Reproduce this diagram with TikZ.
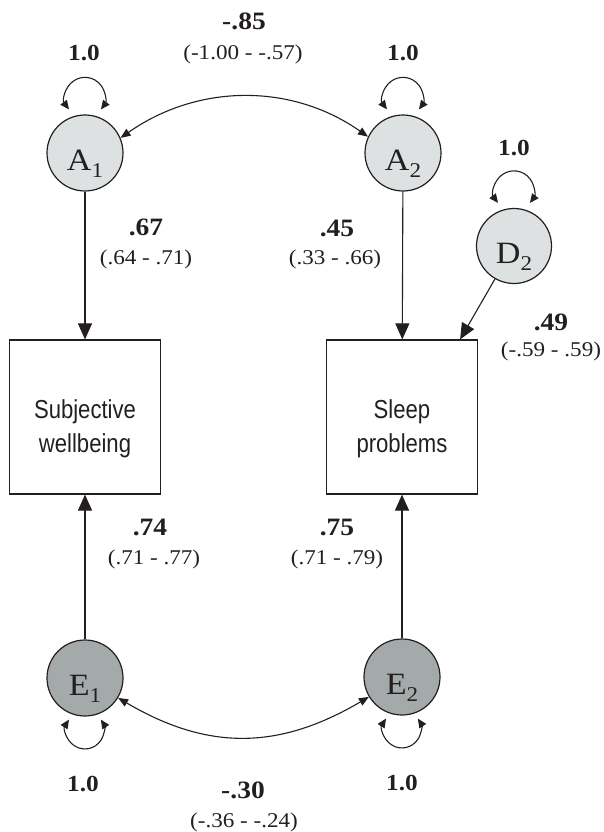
\documentclass[tikz,border=0pt]{standalone}
\usepackage{fontspec}
\setmainfont[FakeStretch=1.1]{Liberation Serif}
\newfontfamily\boxfont[FakeStretch=0.85]{Liberation Sans}
\usetikzlibrary{arrows.meta}
\definecolor{ink}{HTML}{231F20}
\definecolor{afill}{HTML}{DEE1E2}
\definecolor{efill}{HTML}{A4A9AA}
\newcommand{\lsub}[1]{\raisebox{-7pt}{\fontsize{21}{21}\selectfont #1}}
\begin{document}
\begin{tikzpicture}[x=1pt,y=1pt,
  every node/.style={text=ink},
  latent/.style={circle, draw=ink, line width=1.2pt, minimum size=76pt, inner sep=0pt,
    font=\fontsize{31}{31}\selectfont, text height=34pt, text depth=0pt},
  obs/.style={rectangle, draw=ink, line width=1.2pt, minimum width=151pt, minimum height=154pt,
    inner sep=0pt, align=center, font=\boxfont\fontsize{26}{34}\selectfont, text height=77pt},
  pathar/.style={draw=ink, line width=1.1pt, -{Triangle[length=16pt,width=14pt]}},
  cov/.style={draw=ink, line width=1.1pt, {Triangle[length=10pt,width=8pt]}-{Triangle[length=10pt,width=8pt]}},
  loopar/.style={draw=ink, line width=1.1pt, {Triangle[length=9pt,width=8pt]}-{Triangle[length=9pt,width=8pt]}},
  coef/.style={font=\fontsize{25}{25}\selectfont\bfseries, anchor=base, inner sep=0pt},
  ci/.style={font=\fontsize{21}{21}\selectfont, anchor=base, inner sep=0pt},
  varl/.style={font=\fontsize{23}{23}\selectfont\bfseries, anchor=base, inner sep=0pt},
]
\useasboundingbox (0,0) rectangle (603,-832);

% latent variables
\node[latent, fill=afill] (A1) at (85,-153) {A\lsub{1}};
\node[latent, fill=afill] (A2) at (403,-153) {A\lsub{2}};
\node[latent, fill=afill, minimum size=75pt] (D2) at (514,-246) {D\lsub{2}};
\node[latent, fill=efill] (E1) at (85,-678) {E\lsub{1}};
\node[latent, fill=efill] (E2) at (402,-677) {E\lsub{2}};

% observed variables
\node[obs] (B1) at (85,-417) {Subjective\\wellbeing};
\node[obs] (B2) at (402,-417) {Sleep\\problems};

% paths
\draw[pathar] (A1) -- (B1);
\draw[pathar] (A2) -- (B2);
\draw[pathar] (E1) -- (B1);
\draw[pathar] (E2) -- (B2);
\draw[pathar] (D2) -- ([xshift=-18pt]B2.north east);

% covariances
\draw[cov] (A1.23) .. controls +(77,54) and +(-77,54) .. (A2.155);
\draw[cov] (E1.-31) .. controls +(90,-53) and +(-90,-53) .. (E2.-149);

% variance loops
\draw[loopar] ([shift={(-16,5)}]A1.north) arc[start angle=217, end angle=-37, radius=20];
\draw[loopar] ([shift={(-16,5)}]A2.north) arc[start angle=217, end angle=-37, radius=20];
\draw[loopar] ([shift={(-16,5)}]D2.north) arc[start angle=217, end angle=-37, radius=20];
\draw[loopar] ([shift={(-16,-3)}]E1.south) arc[start angle=147, end angle=393, radius=19];
\draw[loopar] ([shift={(-16,-3)}]E2.south) arc[start angle=147, end angle=393, radius=19];

% labels
\node[varl] (vA1) at (84,-61) {1.0};
\node[varl] (vA2) at (403,-61) {1.0};
\node[varl] (vD2) at (514,-155) {1.0};
\node[varl] (vE1) at (83,-791) {1.0};
\node[varl] (vE2) at (402,-790) {1.0};

\node[coef] (cA) at (244,-29.5) {-.85};
\node[ci] (ciA) at (243,-60) {(-1.00 - -.57)};
\node[coef] (c1) at (146,-235.5) {.67};
\node[ci] (ci1) at (146,-264) {(.64 - .71)};
\node[coef] (c2) at (337,-236.5) {.45};
\node[ci] (ci2) at (335,-264) {(.33 - .66)};
\node[coef] (c3) at (551,-330.5) {.49};
\node[ci] (ci3) at (551,-356) {(-.59 - .59)};
\node[coef] (c4) at (150,-535.5) {.74};
\node[ci] (ci4) at (154,-564) {(.71 - .77)};
\node[coef] (c5) at (337,-535.5) {.75};
\node[ci] (ci5) at (337,-564) {(.71 - .79)};
\node[coef] (cE) at (243,-798.5) {-.30};
\node[ci] (ciE) at (244,-827) {(-.36 - -.24)};
\end{tikzpicture}
\end{document}
